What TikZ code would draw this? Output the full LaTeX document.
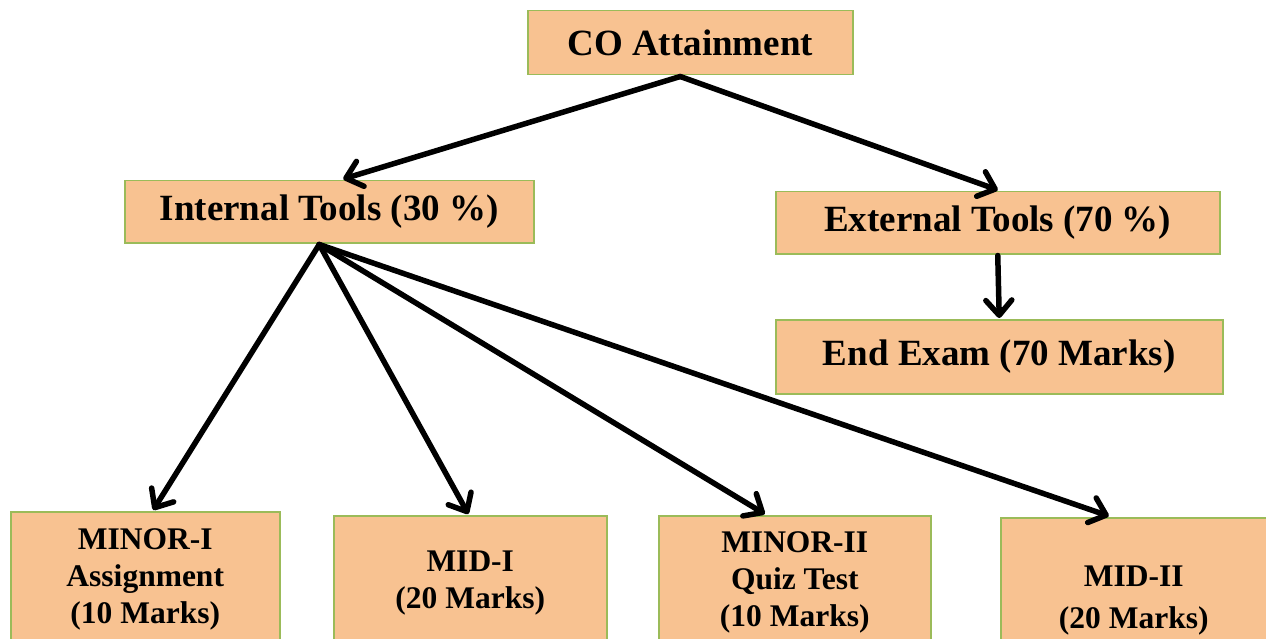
\documentclass[tikz,border=0pt]{standalone}
\usepackage{fontspec}
\setmainfont{Liberation Serif}[BoldFont={Liberation Serif Bold}]
\newfontfamily\boxfont{Liberation Serif Bold}
\usetikzlibrary{arrows.meta,calc}
\definecolor{boxfill}{HTML}{F8C291}
\definecolor{boxline}{HTML}{9BBB59}
\tikzset{
  box/.style={draw=boxline, line width=1.5pt, fill=boxfill, anchor=north west,
    inner sep=0pt, align=center, font=\boxfont\fontsize{37}{40}\selectfont},
  leaf/.style={box, font=\boxfont\fontsize{31.5}{37}\selectfont},
  arr/.style={line width=5.5pt, line cap=round,
    -{Straight Barb[length=15pt,width=26pt,line cap=round,line join=round]}}
}
\begin{document}
\begin{tikzpicture}[x=1pt,y=-1pt]
\useasboundingbox (0,0) rectangle (1266,639);
\clip (0,0) rectangle (1266,639);
% upper levels
\node[box, minimum width=325, minimum height=64] (co) at (527,10) {CO Attainment};
\node[box, minimum width=409, minimum height=62] (it) at (124,180) {Internal Tools (30 \%)};
\node[box, minimum width=444, minimum height=62] (et) at (775,191) {External Tools (70 \%)};
\node[box, minimum width=447, minimum height=74] (ee) at (775,319) {End Exam (70 Marks)};
% assessment tools
\node[leaf, minimum width=269, minimum height=136] (m1) at (10,511) {MINOR-I\\Assignment\\(10 Marks)};
\node[leaf, minimum width=273, minimum height=134] (d1) at (333,515) {MID-I\\(20 Marks)};
\node[leaf, minimum width=272, minimum height=134] (m2) at (658,515) {MINOR-II\\Quiz Test\\(10 Marks)};
\node[leaf, minimum width=266, minimum height=166] (d2) at (1000,517) {MID-II\\[5pt](20 Marks)};
% connectors
\coordinate (coS) at ($(co.south)+(-10,1)$);
\coordinate (itS) at ($(it.south)+(-10,1)$);
\draw[arr] (coS) -- ($(it.north)+(14,-1)$);
\draw[arr] (coS) -- ($(et.north)+(0,-1)$);
\draw[arr] ($(et.south)+(0,1)$) -- ($(ee.north)+(0,-1)$);
\draw[arr] (itS) -- ($(m1.north)+(8,-1)$);
\draw[arr] (itS) -- ($(d1.north)+(-2,-1)$);
\draw[arr] (itS) -- ($(m2.north)+(-30,-1)$);
\draw[arr] (itS) -- ($(d2.north)+(-25,-1)$);
\end{tikzpicture}
\end{document}
